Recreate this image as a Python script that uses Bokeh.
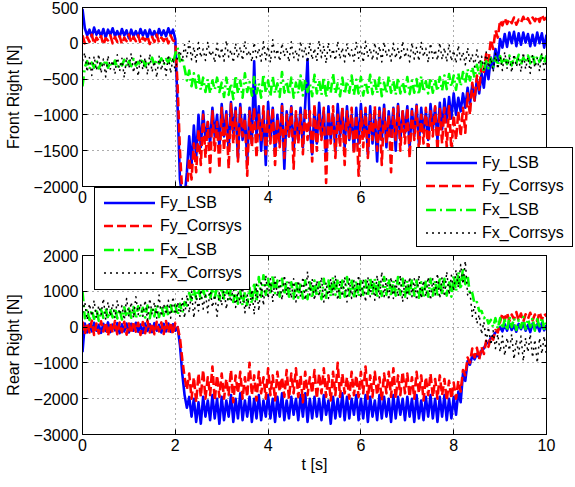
from bokeh.plotting import figure
from bokeh.layouts import column
from bokeh.models import FixedTicker, LinearAxis, Div
from bokeh.embed import file_html
from bokeh.resources import INLINE

# sample times (s), 0.05 s grid
t = [round(0.05 * i, 2) for i in range(201)]

series_names = ["Fy_LSB", "Fy_Corrsys", "Fx_LSB", "Fx_Corrsys"]

# ---------------- Front Right [N] ----------------
fr_fy_lsb = [
    480, 210, 110, 190, 90, 220, 120, 180, 100, 200, 80, 190, 120, 210, 100, 170, 90, 200, 110, 180,
    70, 190, 100, 170, 90, 200, 110, 180, 80, 190, 100, 170, 90, 200, 110, 180, 100, 210, 120, 190,
    60, -900, -1900, -2150, -2150, -1800, -1300, -1700, -1150, -1600, -1000, -1450, -950, -1350, -1100, -1400, -900, -1300, -1000, -1450,
    -850, -1300, -950, -1500, -820, -1250, -900, -1600, -850, -1350, -1000, -1650, -900, -1400, -250, -1300, -880, -1500, -950, -1700,
    -820, -1350, -900, -1550, -1000, -1400, -850, -1750, -950, -1300, -880, -1500, -1000, -1350, -900, -1450, -850, -220, -1200, -1550,
    -900, -1400, -830, -1300, -950, -1600, -880, -1350, -1000, -1500, -850, -1300, -920, -1450, -880, -1350, -1000, -1500, -900, -1400,
    -850, -1300, -950, -1550, -880, -1400, -1000, -1650, -900, -1350, -860, -1450, -950, -1300, -900, -1500, -850, -1350, -950, -1250,
    -880, -1450, -920, -1300, -860, -1400, -900, -1250, -950, -1350, -850, -1200, -900, -1350, -830, -1200, -780, -1100, -750, -1050,
    -700, -1000, -760, -950, -700, -900, -620, -850, -580, -800, -500, -700, -420, -620, -300, -500, -200, -350, -80, -250,
    60, -60, 130, -50, 150, 0, 160, -40, 140, -20, 150, 10, 130, -40, 120, -30, 150, 0, 140, -60,
    120,
]
fr_fy_cor = [
    110, 0, 90, 20, 120, -10, 80, 30, 100, -20, 70, 40, 110, 0, 90, 20, 100, -10, 80, 30,
    120, 10, 90, 30, 110, 0, 80, 40, 100, -10, 90, 20, 120, 10, 80, 30, 100, 0, 110, 40,
    20, -600, -1500, -2100, -2150, -2100, -1600, -1900, -1400, -1800, -1200, -1700, -1000, -1600, -1100, -1800, -950, -1500, -1100, -1750,
    -900, -1500, -1000, -1750, -850, -1400, -950, -1650, -900, -1300, -1050, -1850, -950, -1450, -900, -1600, -1000, -1350, -880, -1550,
    -950, -1400, -900, -1700, -1050, -1450, -880, -1600, -1000, -1300, -900, -1750, -950, -1400, -1000, -1550, -900, -1350, -950, -1650,
    -850, -1500, -1000, -1350, -900, -1950, -950, -1400, -880, -1600, -1000, -1450, -900, -1700, -950, -1350, -900, -1550, -1000, -1850,
    -950, -1450, -900, -1600, -1000, -1350, -880, -1500, -950, -1700, -900, -1400, -1000, -1800, -920, -1350, -880, -1500, -950, -1400,
    -900, -1600, -950, -1350, -880, -1500, -1000, -1400, -900, -1550, -950, -1300, -880, -1500, -920, -1400, -900, -1450, -880, -1500,
    -1000, -1350, -950, -1300, -900, -1250, -700, -1000, -550, -800, -450, -650, -300, -400, -150, -250, 50, -80, 180, 80,
    320, 250, 350, 270, 340, 280, 360, 260, 330, 290, 370, 300, 350, 280, 360, 310, 380, 300, 400, 330,
    360,
]
fr_fx_lsb = [
    -600, -330, -250, -360, -270, -340, -240, -350, -280, -320, -230, -340, -260, -330, -240, -350, -270, -310, -230, -330,
    -250, -320, -220, -310, -260, -300, -210, -320, -240, -290, -200, -310, -230, -280, -210, -300, -220, -270, -190, -280,
    -150, -60, -250, -200, -350, -520, -380, -600, -420, -620, -450, -650, -480, -680, -500, -700, -520, -650, -480, -680,
    -550, -750, -480, -720, -560, -780, -450, -700, -520, -760, -420, -680, -540, -730, -470, -700, -560, -760, -430, -690,
    -520, -740, -460, -700, -560, -750, -400, -690, -530, -720, -480, -760, -550, -700, -450, -730, -500, -680, -560, -740,
    -440, -700, -520, -720, -470, -760, -540, -690, -420, -700, -560, -740, -480, -710, -530, -690, -450, -720, -510, -700,
    -470, -730, -540, -690, -440, -710, -520, -700, -480, -740, -550, -700, -460, -690, -520, -720, -480, -700, -540, -680,
    -470, -710, -520, -690, -500, -720, -460, -680, -530, -700, -480, -690, -510, -670, -470, -660, -450, -640, -430, -610,
    -450, -650, -420, -600, -400, -560, -360, -520, -330, -480, -300, -440, -260, -400, -250, -350, -210, -330, -200, -310,
    -180, -300, -200, -290, -170, -310, -190, -280, -160, -300, -200, -270, -170, -280, -150, -290, -180, -260, -150, -270,
    -170,
]
fr_fx_cor = [
    -250, -130, -400, -200, -450, -180, -380, -150, -420, -220, -470, -170, -360, -240, -430, -160, -390, -210, -480, -190,
    -350, -140, -410, -230, -460, -170, -370, -200, -440, -150, -400, -250, -480, -180, -380, -220, -450, -160, -420, -200,
    -400, -180, -100, -250, -20, -200, 30, -230, -50, -260, 10, -200, -80, -240, 20, -180, -100, -270, 0, -220,
    -60, -250, 40, -190, -90, -270, 0, -210, -50, -240, 30, -180, -100, -260, 10, -200, -70, -250, 20, -230,
    -40, -270, 50, -200, -80, -250, 0, -180, -60, -260, 20, -210, -90, -240, 30, -190, -50, -270, 10, -230,
    -70, -250, 40, -200, -30, -280, 10, -190, -80, -240, 30, -220, -60, -260, 0, -200, -90, -250, 20, -210,
    -50, -270, 30, -190, -70, -240, 10, -220, -40, -260, 20, -180, -90, -250, 0, -210, -60, -240, 30, -200,
    -80, -260, 10, -220, -50, -250, 20, -190, -70, -270, 0, -210, -90, -240, 10, -230, -60, -260, -10, -250,
    -100, -280, -30, -240, -120, -300, -60, -270, -150, -330, -90, -300, -180, -360, -120, -340, -200, -400, -140, -360,
    -180, -380, -120, -350, -200, -410, -150, -330, -220, -400, -130, -360, -190, -420, -160, -340, -210, -390, -140, -370,
    -200,
]

# ---------------- Rear Right [N] ----------------
rr_fy_lsb = [
    -700, 100, -150, 80, -120, 120, -100, 60, -160, 90, -110, 130, -140, 70, -90, 110, -170, 80, -120, 100,
    -150, 90, -100, 120, -130, 70, -160, 100, -110, 80, -140, 110, -100, 60, -150, 90, -120, 100, -130, 80,
    -100, 0, -500, -1300, -1900, -2250, -1950, -2500, -2000, -2650, -2100, -2700, -1950, -2500, -2050, -2600, -1900, -2550, -2000, -2700,
    -1950, -2600, -2050, -2500, -1900, -2650, -2000, -2550, -1850, -2600, -2050, -2500, -1950, -2650, -2000, -2550, -1900, -2600, -2050, -2500,
    -1900, -2550, -2000, -2650, -1950, -2500, -1850, -2600, -2050, -2550, -1950, -2450, -2000, -2600, -1900, -2500, -1850, -2650, -2000, -2550,
    -1950, -2500, -2000, -2600, -1900, -2450, -2050, -2700, -1950, -2550, -2000, -2500, -1850, -2600, -1950, -2550, -2000, -2450, -1900, -2600,
    -2000, -2550, -1900, -2650, -1950, -2500, -2050, -2600, -1900, -2550, -1950, -2500, -2000, -2650, -1900, -2550, -1950, -2450, -2000, -2600,
    -1950, -2500, -2000, -2650, -1900, -2550, -2050, -2600, -1950, -2500, -1900, -2550, -2000, -2650, -1950, -2500, -1900, -2600, -2000, -2550,
    -1950, -2450, -1800, -2100, -1300, -1500, -950, -1050, -800, -900, -750, -850, -650, -600, -450, -450, -300, -250, -150, -100,
    0, -120, 80, -100, 100, -80, 50, -130, 90, -60, 120, -100, 60, -140, 100, -70, 80, -120, 110, -90,
    50,
]
rr_fy_cor = [
    150, -200, 120, -150, 180, -220, 100, -180, 160, -120, 140, -250, 110, -160, 170, -200, 130, -140, 150, -210,
    100, -180, 160, -130, 120, -220, 140, -170, 180, -150, 110, -200, 150, -120, 130, -190, 170, -160, 140, -200,
    120, 0, -300, -900, -1400, -1750, -1300, -2000, -1400, -2100, -1300, -1950, -1200, -2000, -1400, -1900, -1100, -2050, -1350, -1950,
    -1300, -2000, -1450, -1900, -1200, -2100, -1350, -1850, -1250, -2000, -1400, -1950, -1000, -1900, -1350, -2050, -1250, -1850, -1400, -2000,
    -1150, -1900, -1350, -2050, -1250, -1800, -1400, -1950, -1200, -2000, -1300, -1850, -1150, -1950, -1350, -2100, -1250, -1900, -1400, -1850,
    -1200, -2000, -1300, -1850, -1150, -1950, -1350, -2050, -1250, -1900, -1000, -1950, -1300, -1850, -1400, -2000, -1250, -1900, -1350, -1950,
    -1250, -1850, -1100, -2000, -1350, -1950, -1250, -1900, -1400, -2050, -1300, -1850, -1250, -1950, -1150, -2000, -1350, -1900, -1250, -1850,
    -1300, -1950, -1400, -2000, -1250, -1850, -1350, -2050, -1400, -1900, -1300, -1950, -1450, -2000, -1350, -1900, -1450, -2050, -1500, -2000,
    -1550, -2000, -1500, -1800, -1200, -1350, -850, -1000, -600, -850, -580, -900, -550, -750, -380, -550, -250, -350, -80, -150,
    150, 380, 200, 400, 170, 350, 220, 420, 180, 380, 150, 360, 230, 400, 190, 350, 160, 420, 210, 380,
    300,
]
rr_fx_lsb = [
    1000, 250, 500, 200, 480, 230, 520, 180, 490, 260, 530, 220, 470, 270, 540, 240, 500, 210, 550, 280,
    520, 260, 560, 230, 580, 290, 540, 270, 600, 250, 570, 300, 620, 280, 590, 320, 640, 300, 610, 350,
    620, 330, 650, 400, 700, 600, 950, 750, 1050, 800, 1100, 750, 1050, 800, 1150, 780, 1100, 820, 1120, 760,
    1100, 800, 1150, 750, 1080, 700, 1050, 650, 1000, 600, 980, 620, 1100, 650, 1250, 700, 1400, 850, 1450, 900,
    1350, 900, 1450, 950, 1300, 850, 1350, 900, 1300, 850, 1250, 800, 1300, 820, 1250, 800, 1300, 780, 1250, 800,
    1300, 850, 1250, 780, 1350, 820, 1300, 850, 1400, 900, 1350, 820, 1300, 850, 1400, 880, 1350, 800, 1300, 850,
    1350, 900, 1300, 850, 1400, 880, 1350, 820, 1300, 870, 1400, 900, 1350, 850, 1300, 880, 1400, 900, 1350, 850,
    1300, 850, 1350, 880, 1300, 820, 1250, 800, 1300, 850, 1350, 880, 1300, 850, 1400, 900, 1350, 880, 1300, 850,
    1450, 1000, 1550, 1050, 1650, 1200, 1450, 900, 950, 650, 700, 450, 450, 250, 300, 100, 200, 0, 250, -50,
    250, -50, 200, -100, 300, 0, 250, -80, 200, -20, 280, -60, 230, 0, 260, -100, 220, 20, 270, -50,
    150,
]
rr_fx_cor = [
    400, 700, 200, 650, 300, 750, 250, 600, 350, 800, 200, 700, 300, 650, 250, 750, 350, 600, 200, 800,
    300, 700, 250, 850, 350, 650, 300, 750, 200, 800, 350, 700, 250, 900, 300, 650, 350, 750, 250, 850,
    350, 700, 300, 800, 250, 900, 400, 1000, 250, 900, 450, 1050, 500, 950, 400, 1100, 550, 900, 300, 1000,
    600, 1100, 500, 950, 700, 1150, 550, 1000, 650, 1200, 400, 900, 500, 1050, 350, 1200, 450, 1300, 600, 1450,
    800, 1350, 700, 1400, 850, 1300, 750, 1450, 900, 1250, 800, 1350, 700, 1300, 850, 1400, 750, 1550, 900, 1350,
    750, 1300, 850, 1400, 700, 1250, 800, 1350, 900, 1450, 750, 1300, 850, 1400, 700, 1350, 800, 1300, 850, 1450,
    800, 1350, 700, 1400, 850, 1300, 750, 1450, 800, 1550, 850, 1350, 750, 1400, 800, 1300, 850, 1450, 700, 1350,
    800, 1400, 850, 1350, 750, 1450, 800, 1300, 850, 1400, 750, 1350, 900, 1500, 800, 1400, 850, 1550, 900, 1450,
    1000, 1600, 1100, 1750, 1200, 1850, 900, 1000, 300, 600, 100, 350, -200, 150, -400, 0, -500, -100, -600, -200,
    -700, -250, -800, -300, -650, -200, -900, -350, -750, -250, -950, -300, -700, -200, -850, -350, -1000, -300, -750, -250,
    -800,
]

x_ticks = [0, 2, 4, 6, 8, 10]
top_y_ticks = [-2000, -1500, -1000, -500, 0, 500]
top_y_labels = ["\u22122000", "\u22121500", "\u22121000", "\u2212500", "0", "500"]
bot_y_ticks = [-3000, -2000, -1000, 0, 1000, 2000]
bot_y_labels = ["\u22123000", "\u22122000", "\u22121000", "0", "1000", "2000"]

FONT = "Liberation Sans"
FS = "16px"

styles = [
    dict(line_color="#0000ff", line_width=2.6),
    dict(line_color="#ff0000", line_width=2.6, line_dash="9 4"),
    dict(line_color="#00ff00", line_width=2.6, line_dash="10 4 2 4"),
    dict(line_color="#000000", line_width=1.5, line_dash="2 4"),
]


def make_fig(height, bt, bb, yr, yticks, ylabels, ylabel, xlabel, data, transparent):
    p = figure(width=575, height=height, x_range=(0, 10), y_range=yr,
               output_backend="svg", toolbar_location=None,
               min_border_left=82, min_border_right=29,
               min_border_top=bt, min_border_bottom=bb)
    p.background_fill_color = "white"
    p.border_fill_color = None if transparent else "white"
    p.outline_line_color = "black"
    p.outline_line_width = 1

    p.xaxis.ticker = FixedTicker(ticks=x_ticks)
    p.yaxis.ticker = FixedTicker(ticks=yticks)
    p.yaxis.major_label_overrides = {v: s for v, s in zip(yticks, ylabels)}
    for ax in (p.xaxis[0], p.yaxis[0]):
        ax.major_tick_in = 5
        ax.major_tick_out = 0
        ax.minor_tick_line_color = None
        ax.major_label_text_font = FONT
        ax.major_label_text_font_size = FS
        ax.major_label_text_color = "black"
        ax.major_label_standoff = 4
        ax.axis_line_color = "black"
        ax.axis_label_text_font = FONT
        ax.axis_label_text_font_size = FS
        ax.axis_label_text_font_style = "normal"
        ax.axis_label_text_color = "black"
    p.yaxis.axis_label = ylabel
    p.yaxis.axis_label_standoff = 9
    if xlabel:
        p.xaxis.axis_label = xlabel
        p.xaxis.axis_label_standoff = 2

    for loc, tk in (("right", yticks), ("above", x_ticks)):
        ax = LinearAxis(ticker=FixedTicker(ticks=tk), major_tick_in=5, major_tick_out=0,
                        minor_tick_line_color=None, major_label_text_font_size="0px",
                        major_label_standoff=0, axis_line_color="black")
        ax.major_label_overrides = {v: "" for v in tk}
        p.add_layout(ax, loc)

    for g in (p.xgrid[0], p.ygrid[0]):
        g.grid_line_color = "#333333"
        g.grid_line_dash = "1 4"
        g.grid_line_width = 1
        g.grid_line_alpha = 0.8

    for ys, st in zip(data, styles):
        p.line(t, ys, line_join="round", **st)
    return p


def legend_div(w, h):
    rows = []
    for n, st in zip(series_names, styles):
        dash = st.get("line_dash", "")
        da = ' stroke-dasharray="%s"' % dash.replace(" ", ",") if dash else ""
        rows.append(
            '<div style="display:flex;align-items:center;height:23.5px;">'
            '<svg width="51" height="10" style="margin-left:9px;flex:none;display:block;">'
            '<line x1="0" y1="5" x2="51" y2="5" stroke="%s" stroke-width="%s"%s/></svg>'
            '<span style="margin-left:5px;white-space:nowrap;">%s</span></div>'
            % (st["line_color"], st["line_width"], da, n))
    html = ('<div style="box-sizing:border-box;width:%dpx;height:%dpx;border:1px solid #000;'
            'background:#fff;padding-top:3px;font-family:\'Liberation Sans\',Arial,sans-serif;'
            'font-size:16px;line-height:1;color:#000;">%s</div>' % (w, h, "".join(rows)))
    return Div(text=html, width=w, height=h)


p1 = make_fig(250, 7, 64, (-2000, 500), top_y_ticks, top_y_labels, "Front Right [N]", None,
              [fr_fy_lsb, fr_fy_cor, fr_fx_lsb, fr_fx_cor], False)
p2 = make_fig(307, 75, 53, (-3000, 2000), bot_y_ticks, bot_y_labels, "Rear Right [N]", "t [s]",
              [rr_fy_lsb, rr_fy_cor, rr_fx_lsb, rr_fx_cor], True)
p2.margin = (-70, 0, 0, 0)

leg_right = legend_div(157, 100)
leg_right.margin = (-340, 0, 0, 416)
leg_left = legend_div(156, 103)
leg_left.margin = (-60, 0, 197, 94)

layout = column(p1, p2, leg_right, leg_left, spacing=0)
open("out.html", "w").write(file_html(layout, INLINE))
